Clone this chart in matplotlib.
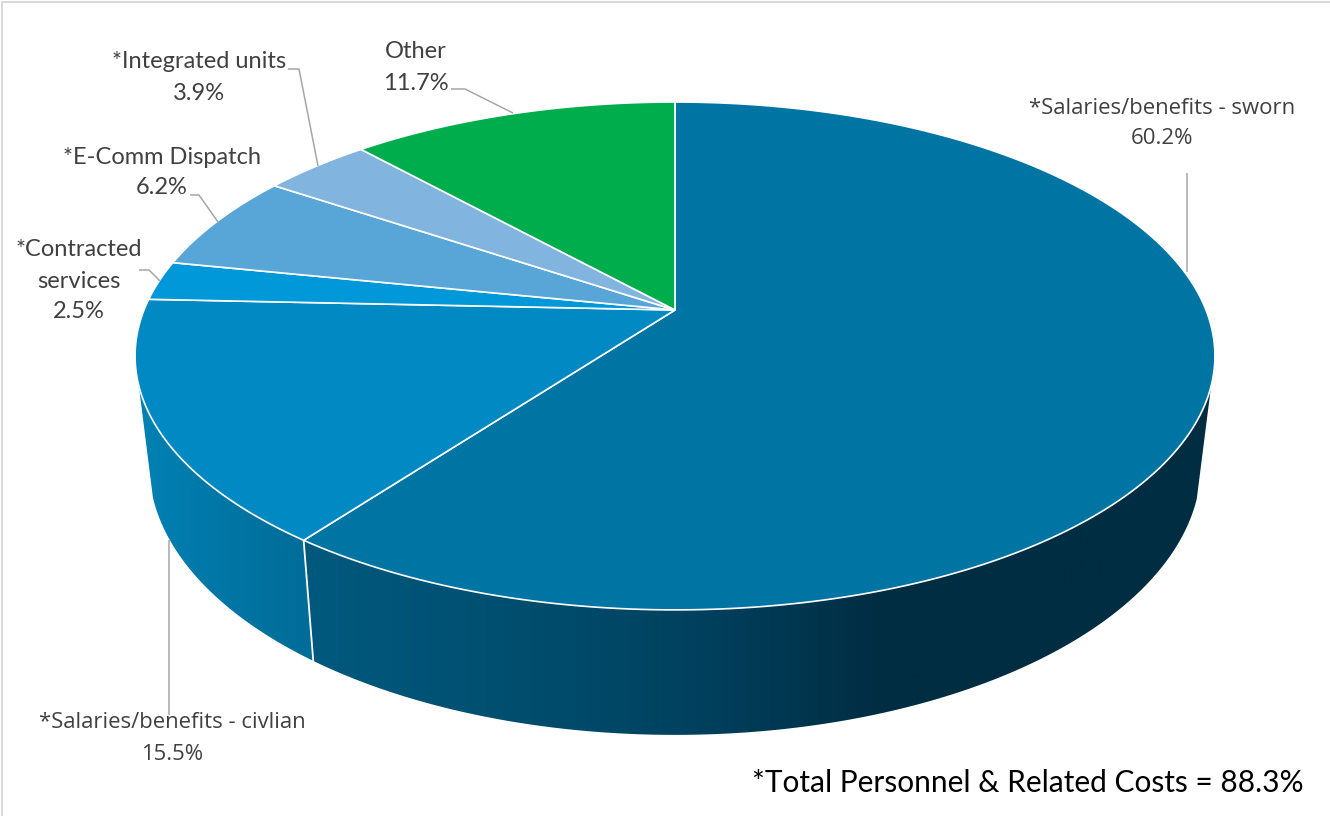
import numpy as np
import matplotlib
matplotlib.use("Agg")
import matplotlib.pyplot as plt
from matplotlib.colors import LinearSegmentedColormap
from matplotlib.patches import Polygon

labels = ["*Salaries/benefits - sworn", "*Salaries/benefits - civlian", "*Contracted\nservices",
          "*E-Comm Dispatch", "*Integrated units", "Other"]
values = [60.2, 15.5, 2.5, 6.2, 3.9, 11.7]
colors = ["#0075a4", "#0089c2", "#0098d8", "#58a6d8", "#81b4de", "#00ad4c"]
footnote = "*Total Personnel & Related Costs = 88.3%"

# label centre (first line), font, size
label_pos = [(1162, 108), (172, 723), (79, 250), (162, 157), (199, 62), (416, 52)]
label_fonts = ["Open Sans", "Open Sans", "Lato", "Lato", "Lato", "Lato"]
label_sizes = [15.9, 15.9, 17, 17, 17, 17]
line_pitch = 31
leaders = [
    [(1187, 173), (1187, 272)],
    [(169, 540), (169, 715)],
    [(139, 270), (149, 270), (160, 281)],
    [(190, 195), (199, 195), (218, 222)],
    [(288, 69), (299, 69), (318, 166)],
    [(451, 89), (465, 89), (513, 113)],
]

# perspective of the top disc, in pixels
CX, APEX_Y = 675, 310
SX, PA, PC = 531, -189.5, 0.181
TOP_Y, TOP_RX, TOP_RY = 356, 540, 254
BOT_Y, BOT_RX, BOT_RY = 465, 526, 270
KINK_Y = 497


def top_rim(theta):
    theta = np.asarray(theta)
    s, c = np.sin(theta), np.cos(theta)
    w = PC * c + 1
    return CX + SX * s / w, (PA * c + APEX_Y) / w


def bottom_rim(theta):
    x, y = top_rim(theta)
    return CX + (x - CX) / TOP_RX * BOT_RX, BOT_Y + (y - TOP_Y) / TOP_RY * BOT_RY


fig = plt.figure(figsize=(13.3, 8.16), dpi=100)
ax = fig.add_axes([0, 0, 1, 1])
ax.set_xlim(0, 1330)
ax.set_ylim(816, 0)
ax.axis("off")

edges = np.radians(np.concatenate([[0], np.cumsum(values)]) * 3.6)
side_right = np.arccos(-PC)
side_left = 2 * np.pi - side_right
seam = edges[1]


def side_polygon(t0, t1):
    t = np.linspace(t0, t1, 300)
    bx, by = bottom_rim(t)
    keep = by >= KINK_Y  # wall runs straight down to here, then follows the lower rim
    tx0, ty0 = top_rim(t0)
    tx1, ty1 = top_rim(t1)
    return np.vstack([[tx0, ty0], np.column_stack([bx[keep], by[keep]]), [tx1, ty1]])


def gradient_side(t0, t1, stops):
    cmap = LinearSegmentedColormap.from_list("side", stops)
    poly = Polygon(side_polygon(t0, t1), closed=True, transform=ax.transData, fc="none", ec="none")
    ax.add_patch(poly)
    im = ax.imshow(np.linspace(0, 1, 512)[None, :], cmap=cmap, aspect="auto",
                   extent=(100, 1250, 780, 300), zorder=1)
    im.set_clip_path(poly)


gradient_side(side_right, seam, [(0, "#00597d"), (0.19, "#00597d"), (0.35, "#004f70"),
                                 (0.52, "#00415f"), (0.68, "#002d42"), (1, "#002d42")])
gradient_side(seam, side_left, [(0, "#0080b2"), (0.04, "#0080b2"), (0.18, "#006c98"), (1, "#006c98")])
ax.set_xlim(0, 1330)
ax.set_ylim(816, 0)

# seam between the two visible side walls
sx = [top_rim(seam)[0], bottom_rim(seam)[0]]
sy = [top_rim(seam)[1], bottom_rim(seam)[1]]
ax.plot(sx, sy, color="white", lw=1.3, zorder=2)

# top face
for i, col in enumerate(colors):
    t = np.linspace(edges[i], edges[i + 1], 200)
    x, y = top_rim(t)
    pts = np.vstack([[CX, APEX_Y], np.column_stack([x, y])])
    ax.add_patch(Polygon(pts, closed=True, fc=col, ec="white", lw=1.2, zorder=3))

# leaders and labels
for line in leaders:
    xs, ys = zip(*line)
    ax.plot(xs, ys, color="#a6a6a6", lw=1.1, zorder=4, solid_capstyle="butt")

for lab, val, pos, fnt, size in zip(labels, values, label_pos, label_fonts, label_sizes):
    rows = lab.split("\n") + [f"{val:.1f}%"]
    for k, row in enumerate(rows):
        ax.text(pos[0], pos[1] + k * line_pitch, row, ha="center", va="center",
                family=fnt, fontsize=size, color="#404040", zorder=5)

ax.text(1028, 783, footnote, ha="center", va="center", family="Lato", fontsize=21.5, color="black", zorder=5)

# frame of the pasted chart
ax.plot([2, 2, 1330], [816, 2, 2], color="#d9d9d9", lw=1.5, zorder=0)

fig.savefig("out.png", dpi=100, facecolor="white")
